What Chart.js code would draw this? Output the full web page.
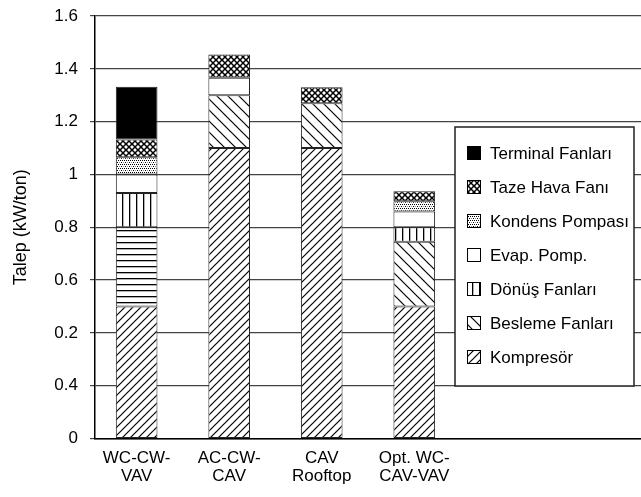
<!DOCTYPE html>
<html lang="tr">
<head>
<meta charset="utf-8">
<title>Talep (kW/ton)</title>
<script src="https://cdn.jsdelivr.net/npm/chart.js@4.4.1/dist/chart.umd.min.js"></script>
<style>
  html, body { margin: 0; padding: 0; background: #fff; }
  #wrap { width: 641px; height: 497px; }
</style>
</head>
<body>
<div id="wrap"><canvas id="chart" width="641" height="497"></canvas></div>
<script>
// --- veriler (kW/ton) ---
const categories = [["WC-CW-", "VAV"], ["AC-CW-", "CAV"], ["CAV", "Rooftop"], ["Opt. WC-", "CAV-VAV"]];
const kompresor = [0.50, 1.10, 1.10, 0.50];
const besleme   = [0.30, 0.20, 0.17, 0.245];
const donus     = [0.13, 0, 0, 0.055];
const evap      = [0.07, 0.066, 0, 0.06];
const kondens   = [0.065, 0, 0, 0.038];
const tazeHava  = [0.067, 0.088, 0.06, 0.038];
const terminal  = [0.20, 0, 0, 0];

const yTickValues = [0, 0.2, 0.4, 0.6, 0.8, 1, 1.2, 1.4, 1.6];
const yTickLabels = ["0", "0.4", "0.2", "0.6", "0.8", "1", "1.2", "1.4", "1.6"];

const FONT = "'Liberation Sans', sans-serif";

const canvas = document.getElementById("chart");
const ctx = canvas.getContext("2d");

// tarama desenleri
function hatch(size, draw) {
  const c = document.createElement("canvas");
  c.width = size; c.height = size;
  const g = c.getContext("2d");
  g.fillStyle = "#fff";
  g.fillRect(0, 0, size, size);
  g.strokeStyle = "#000";
  g.fillStyle = "#000";
  g.lineWidth = 1.2;
  draw(g, size);
  return ctx.createPattern(c, "repeat");
}
function line(g, x1, y1, x2, y2) {
  g.beginPath(); g.moveTo(x1, y1); g.lineTo(x2, y2); g.stroke();
}
const patSlash = hatch(8, (g, s) => {
  line(g, -1, s + 1, s + 1, -1); line(g, -1, 1, 1, -1); line(g, s - 1, s + 1, s + 1, s - 1);
});
const patBack = hatch(11, (g, s) => {
  line(g, -1, -1, s + 1, s + 1); line(g, s - 1, -1, s + 1, 1); line(g, -1, s - 1, 1, s + 1);
});
const patHoriz = hatch(6, (g, s) => { g.fillRect(0, 2, s, 1.3); });
const patVert = hatch(7, (g, s) => { g.fillRect(3, 0, 1.3, s); });
const patCross = hatch(6, (g, s) => {
  g.lineWidth = 1.5;
  line(g, -1, -1, s + 1, s + 1); line(g, -1, s + 1, s + 1, -1);
});
const patDots = hatch(4, (g, s) => {
  g.fillRect(0, 0, 1, 1); g.fillRect(2, 0, 1, 1); g.fillRect(1, 2, 1, 1); g.fillStyle = "#888"; g.fillRect(3, 2, 1, 1);
});

function pts(arr) {
  return arr.map((v, i) => ({ x: i, y: v === 0 ? null : v }));
}

const segBase = { borderColor: "#222", borderWidth: 1, borderSkipped: false, barPercentage: 0.45, categoryPercentage: 1 };

const datasets = [
  { label: "Kompresör", data: pts(kompresor), backgroundColor: patSlash, swatch: patSlash },
  { label: "Besleme Fanları", data: pts(besleme), backgroundColor: [patHoriz, patBack, patBack, patBack], swatch: patBack },
  { label: "Dönüş Fanları", data: pts(donus), backgroundColor: patVert, swatch: patVert },
  { label: "Evap. Pomp.", data: pts(evap), backgroundColor: "#fff", swatch: "#fff" },
  { label: "Kondens Pompası", data: pts(kondens), backgroundColor: patDots, swatch: patDots },
  { label: "Taze Hava Fanı", data: pts(tazeHava), backgroundColor: patCross, swatch: patCross },
  { label: "Terminal Fanları", data: pts(terminal), backgroundColor: "#000", swatch: "#000" }
].map(d => Object.assign({}, segBase, d));

// grafik içindeki kutulu açıklama
const boxLegend = {
  id: "boxLegend",
  afterDraw(chart) {
    const c = chart.ctx;
    const x0 = 455, y0 = 127, w = 179, h = 259;
    c.save();
    c.fillStyle = "#fff";
    c.fillRect(x0, y0, w, h);
    c.strokeStyle = "#222";
    c.lineWidth = 1.5;
    c.strokeRect(x0, y0, w, h);
    c.font = "17px " + FONT;
    c.textBaseline = "middle";
    const items = chart.data.datasets.slice().reverse();
    items.forEach((d, i) => {
      const cy = 153 + i * 34;
      c.fillStyle = d.swatch;
      c.fillRect(467, cy - 7, 14, 14);
      c.lineWidth = 1;
      c.strokeStyle = "#000";
      c.strokeRect(467.5, cy - 6.5, 13, 13);
      c.fillStyle = "#000";
      c.fillText(d.label, 490, cy + 1);
    });
    c.restore();
  }
};

new Chart(ctx, {
  type: "bar",
  data: { datasets },
  plugins: [boxLegend],
  options: {
    responsive: false,
    animation: false,
    layout: { padding: { top: 16, right: 0, bottom: 0, left: 0 } },
    plugins: { legend: { display: false }, tooltip: { enabled: false } },
    scales: {
      x: {
        type: "linear",
        stacked: true,
        offset: false,
        min: -0.45,
        max: 5.45,
        afterBuildTicks: s => { s.ticks = categories.map((c, i) => ({ value: i })); },
        afterFit: s => { s.height = 58.5; s.paddingLeft = 0; s.paddingRight = 0; },
        grid: { display: false, drawTicks: false, offset: false },
        border: { display: true, color: "#000", width: 1.5 },
        ticks: {
          padding: 11,
          color: "#000",
          font: { family: FONT, size: 17, lineHeight: 1.05 },
          callback: v => categories[v] || ""
        }
      },
      y: {
        stacked: true,
        min: 0,
        max: 1.6,
        afterBuildTicks: s => { s.ticks = yTickValues.map(v => ({ value: v })); },
        afterFit: s => { s.width = 95; s.paddingTop = 0; s.paddingBottom = 0; },
        grid: { color: "#444", lineWidth: 1.2, tickLength: 5 },
        border: { display: true, color: "#000", width: 1.5 },
        ticks: {
          padding: 12,
          color: "#000",
          font: { family: FONT, size: 17 },
          callback: (v, i) => yTickLabels[i]
        },
        title: {
          display: true,
          text: "Talep (kW/ton)",
          color: "#000",
          font: { family: FONT, size: 18 },
          padding: { top: 10, bottom: 0 }
        }
      }
    }
  }
});
</script>
</body>
</html>
